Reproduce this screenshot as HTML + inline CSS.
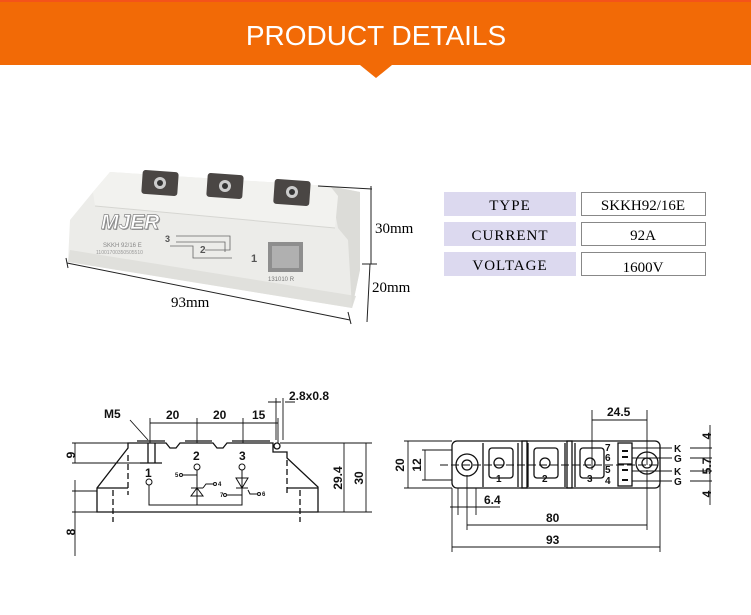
<!DOCTYPE html>
<html><head><meta charset="utf-8"><style>
html,body{margin:0;padding:0;background:#fff;}
svg{display:block;}
.s{font-family:"Liberation Serif",serif;}
.a{font-family:"Liberation Sans",sans-serif;font-weight:bold;}
</style></head><body>
<svg width="751" height="615" viewBox="0 0 751 615" xmlns="http://www.w3.org/2000/svg">
<rect x="0" y="0" width="751" height="65" fill="#f26a06"/>
<rect x="0" y="0" width="751" height="2" fill="#f4531a"/>
<polygon points="360,65 392,65 376,78" fill="#f26a06"/>
<text x="376" y="45" text-anchor="middle" font-family="Liberation Sans,sans-serif" font-size="28" fill="#fff">PRODUCT  DETAILS</text>

<!-- module photo -->
<g>
<polygon points="110,172 330,186 360,192 358,237 360,270 352,308 68,262 70,220 93,192" fill="#ecece9"/>
<polygon points="68,262 352,308 356,296 70,250" fill="#e0e0dc"/>
<polygon points="330,186 360,192 360,270 352,308 348,240 338,228" fill="#dcdcd8"/>
<polygon points="110,172 330,186 338,196 335,228 95,206 93,192" fill="#f2f2ef"/>
<line x1="95" y1="206" x2="335" y2="228" stroke="#d6d6d2"/>
<rect x="142" y="171" width="36" height="24" rx="3" fill="#4a4644" transform="rotate(4 160 183)"/>
<circle cx="160" cy="183" r="6" fill="#ccc"/><circle cx="160" cy="183" r="3" fill="#333"/>
<rect x="207" y="174" width="36" height="24" rx="3" fill="#4a4644" transform="rotate(4 225 186)"/>
<circle cx="225" cy="186" r="6" fill="#ccc"/><circle cx="225" cy="186" r="3" fill="#333"/>
<rect x="274" y="180" width="36" height="25" rx="3" fill="#4a4644" transform="rotate(4 292 192)"/>
<circle cx="292" cy="192" r="6" fill="#ccc"/><circle cx="292" cy="192" r="3" fill="#333"/>
<text x="102" y="230" font-family="Liberation Sans,sans-serif" font-weight="bold" font-style="italic" font-size="21" fill="#999">MJER</text>
<text x="101" y="229" font-family="Liberation Sans,sans-serif" font-weight="bold" font-style="italic" font-size="21" fill="#fff" stroke="#888" stroke-width="0.7">MJER</text>
<g stroke="#666" stroke-width="0.8" fill="none">
<path d="M176,236 H230 V250 H205 M176,242 H225 V252 M170,246 H193 V258 H232"/>
</g>
<text x="165" y="242" font-size="9" font-weight="bold" fill="#555" font-family="Liberation Sans,sans-serif">3</text>
<text x="200" y="253" font-size="10" font-weight="bold" fill="#555" font-family="Liberation Sans,sans-serif">2</text>
<text x="251" y="262" font-size="11" font-weight="bold" fill="#555" font-family="Liberation Sans,sans-serif">1</text>
<text x="103" y="247" font-size="6" fill="#888" font-family="Liberation Sans,sans-serif">SKKH 92/16 E</text>
<text x="96" y="254" font-size="5" fill="#999" font-family="Liberation Sans,sans-serif">11001700350505510</text>
<rect x="268" y="242" width="35" height="30" fill="#8e8e8e"/>
<rect x="272" y="246" width="27" height="22" fill="#b0b0b0"/>
<text x="268" y="281" font-size="6" fill="#777" font-family="Liberation Sans,sans-serif">131010 R</text>
</g>
<g stroke="#222" stroke-width="1" fill="none">
<line x1="318" y1="186" x2="372" y2="189"/>
<line x1="371" y1="186" x2="371" y2="264"/>
<line x1="362" y1="264" x2="377" y2="264"/>
<line x1="370" y1="264" x2="367" y2="322"/>
<line x1="66" y1="258" x2="68" y2="268"/>
<line x1="67" y1="263" x2="350" y2="320"/>
<line x1="348" y1="312" x2="351" y2="324"/>
</g>
<text x="375" y="233" class="s" font-size="15">30mm</text>
<text x="372" y="292" class="s" font-size="15">20mm</text>
<text x="171" y="307" class="s" font-size="15">93mm</text>

<!-- table -->
<g class="s" font-size="15" text-anchor="middle">
<rect x="444" y="192" width="132" height="24" fill="#dcd9ef"/>
<rect x="581.5" y="192.5" width="124" height="23" fill="#fff" stroke="#888"/>
<text x="510" y="210" letter-spacing="1">TYPE</text><text x="643" y="210">SKKH92/16E</text>
<rect x="444" y="222" width="132" height="24" fill="#dcd9ef"/>
<rect x="581.5" y="222.5" width="124" height="23" fill="#fff" stroke="#888"/>
<text x="510" y="240" letter-spacing="1">CURRENT</text><text x="643" y="240">92A</text>
<rect x="444" y="252" width="132" height="24" fill="#dcd9ef"/>
<rect x="581.5" y="252.5" width="124" height="23" fill="#fff" stroke="#888"/>
<text x="510" y="270" letter-spacing="1">VOLTAGE</text><text x="643" y="272">1600V</text>
</g>

<!-- bottom-left drawing -->
<g stroke="#111" stroke-width="1.3" fill="none">
<path d="M128,443 H166 L170,448 H176 L180,443 H213 L217,448 H223 L227,443 H273 V452 H287 V458 L318,487 V512 H97 V488 L128,448 Z"/>
<path d="M137,441 H165 M185,441 H212 M232,441 H270"/>
<line x1="97" y1="488" x2="128" y2="488"/><line x1="287" y1="488" x2="318" y2="488"/>
<line x1="128" y1="455" x2="128" y2="495" stroke-dasharray="6,3"/>
<line x1="113" y1="490" x2="113" y2="522" stroke-dasharray="6,3"/>
<line x1="287" y1="460" x2="287" y2="495" stroke-dasharray="6,3"/>
<line x1="300" y1="490" x2="300" y2="522" stroke-dasharray="6,3"/>
<path d="M148,443 V463 M155,443 V463 M140,463 H162"/>
<circle cx="277" cy="446" r="3"/>
</g>
<g stroke="#111" stroke-width="0.9" fill="none">
<path d="M150,418 V443 M197,418 V443 M243,418 V443 M278,418 V443 M150,423 H278"/>
<path d="M268,402 H281 M285,402 H295 M276,398 V440 M283,398 V440"/>
<path d="M130,420 L148,440"/>
<path d="M72,443 H128 M72,463 H150 M75,443 V463"/>
<path d="M72,491 H97 M75,480 V556 M72,512 H97"/>
<path d="M280,443 H372 M318,512 H372 M344,443 V512 M366,443 V512"/>
</g>
<g class="a" font-size="12" fill="#111">
<text x="104" y="418">M5</text>
<text x="166" y="419">20</text><text x="213" y="419">20</text><text x="252" y="419">15</text>
<text x="289" y="400">2.8x0.8</text>
<text transform="translate(75,455) rotate(-90)" text-anchor="middle">9</text>
<text transform="translate(75,532) rotate(-90)" text-anchor="middle">8</text>
<text transform="translate(342,478) rotate(-90)" text-anchor="middle">29.4</text>
<text transform="translate(363,478) rotate(-90)" text-anchor="middle">30</text>
<text x="145" y="477">1</text><text x="193" y="460">2</text><text x="239" y="460">3</text>
</g>
<g stroke="#111" stroke-width="1" fill="none">
<circle cx="149" cy="482" r="3"/><circle cx="197" cy="467" r="3"/><circle cx="242" cy="467" r="3"/>
<path d="M149,485 V505 H242 V470 M197,470 V505"/>
<path d="M191,488 H203 M191,496 H203 L197,488 Z M236,478 H248 L242,488 Z M236,488 H248"/>
<path d="M183,475 H197 M203,488 L206,484 H213 M227,495 H242 M248,490 L250,494 H257"/>
<circle cx="181" cy="475" r="1.5"/><circle cx="215" cy="484" r="1.5"/><circle cx="225" cy="495" r="1.5"/><circle cx="259" cy="494" r="1.5"/>
</g>
<g class="a" font-size="6" fill="#111"><text x="175" y="477">5</text><text x="218" y="486">4</text><text x="220" y="497">7</text><text x="262" y="496">6</text></g>

<!-- bottom-right drawing -->
<g stroke="#111" stroke-width="1.3" fill="none">
<rect x="452" y="441" width="208" height="47" rx="5"/>
<path d="M483,443 V487 M518,443 V487 M528,443 V487 M565,443 V487 M575,443 V487"/>
<rect x="522" y="441" width="5" height="47"/><rect x="567" y="441" width="5" height="47"/>
<rect x="489" y="448" width="24" height="30" rx="3"/><rect x="534" y="448" width="24" height="30" rx="3"/><rect x="580" y="448" width="24" height="30" rx="3"/>
<circle cx="499" cy="463" r="5"/><circle cx="545" cy="463" r="5"/><circle cx="590" cy="463" r="5"/>
<circle cx="467" cy="465" r="11"/><circle cx="467" cy="465" r="5"/>
<circle cx="647" cy="463" r="11"/><circle cx="647" cy="463" r="5"/>
<rect x="618" y="443" width="14" height="43"/>
<path d="M618,464 H632"/>
</g>
<g stroke="#111" stroke-width="2"><path d="M622,451 H628 M622,457 H628 M622,470 H628 M622,480 H628"/></g>
<g stroke="#111" stroke-width="0.9" fill="none">
<path d="M440,465 H660" stroke-dasharray="8,3"/>
<path d="M592,410 V470 M647,410 V465 M592,420 H647"/>
<path d="M404,441 H452 M404,488 H452 M408,441 V488"/>
<path d="M422,450 H452 M422,480 H452 M425,450 V480"/>
<path d="M458,488 V515 M476,488 V515 M450,507 H480 M480,507 H500"/>
<path d="M452,488 V552 M660,480 V552 M467,475 V530 M467,525 H647 M452,547 H660 M647,470 V530"/>
<path d="M632,448 H672 M632,458 H672 M632,471 H672 M632,481 H672 M690,448 H712 M690,458 H712 M690,471 H712 M690,481 H712 M710,425 V505"/>
</g>
<g class="a" font-size="12" fill="#111">
<text x="607" y="416">24.5</text>
<text transform="translate(404,465) rotate(-90)" text-anchor="middle">20</text>
<text transform="translate(421,465) rotate(-90)" text-anchor="middle">12</text>
<text x="484" y="504">6.4</text>
<text x="546" y="522">80</text>
<text x="546" y="544">93</text>
<text x="496" y="482" font-size="10">1</text><text x="542" y="482" font-size="10">2</text><text x="587" y="482" font-size="10">3</text>
<g font-size="10"><text x="605" y="451">7</text><text x="605" y="461">6</text><text x="605" y="473">5</text><text x="605" y="484">4</text>
<text x="674" y="452">K</text><text x="674" y="462">G</text><text x="674" y="475">K</text><text x="674" y="485">G</text></g>
<text transform="translate(711,436) rotate(-90)" text-anchor="middle">4</text>
<text transform="translate(711,466) rotate(-90)" text-anchor="middle">5.7</text>
<text transform="translate(711,494) rotate(-90)" text-anchor="middle">4</text>
</g>
</svg>
</body></html>
